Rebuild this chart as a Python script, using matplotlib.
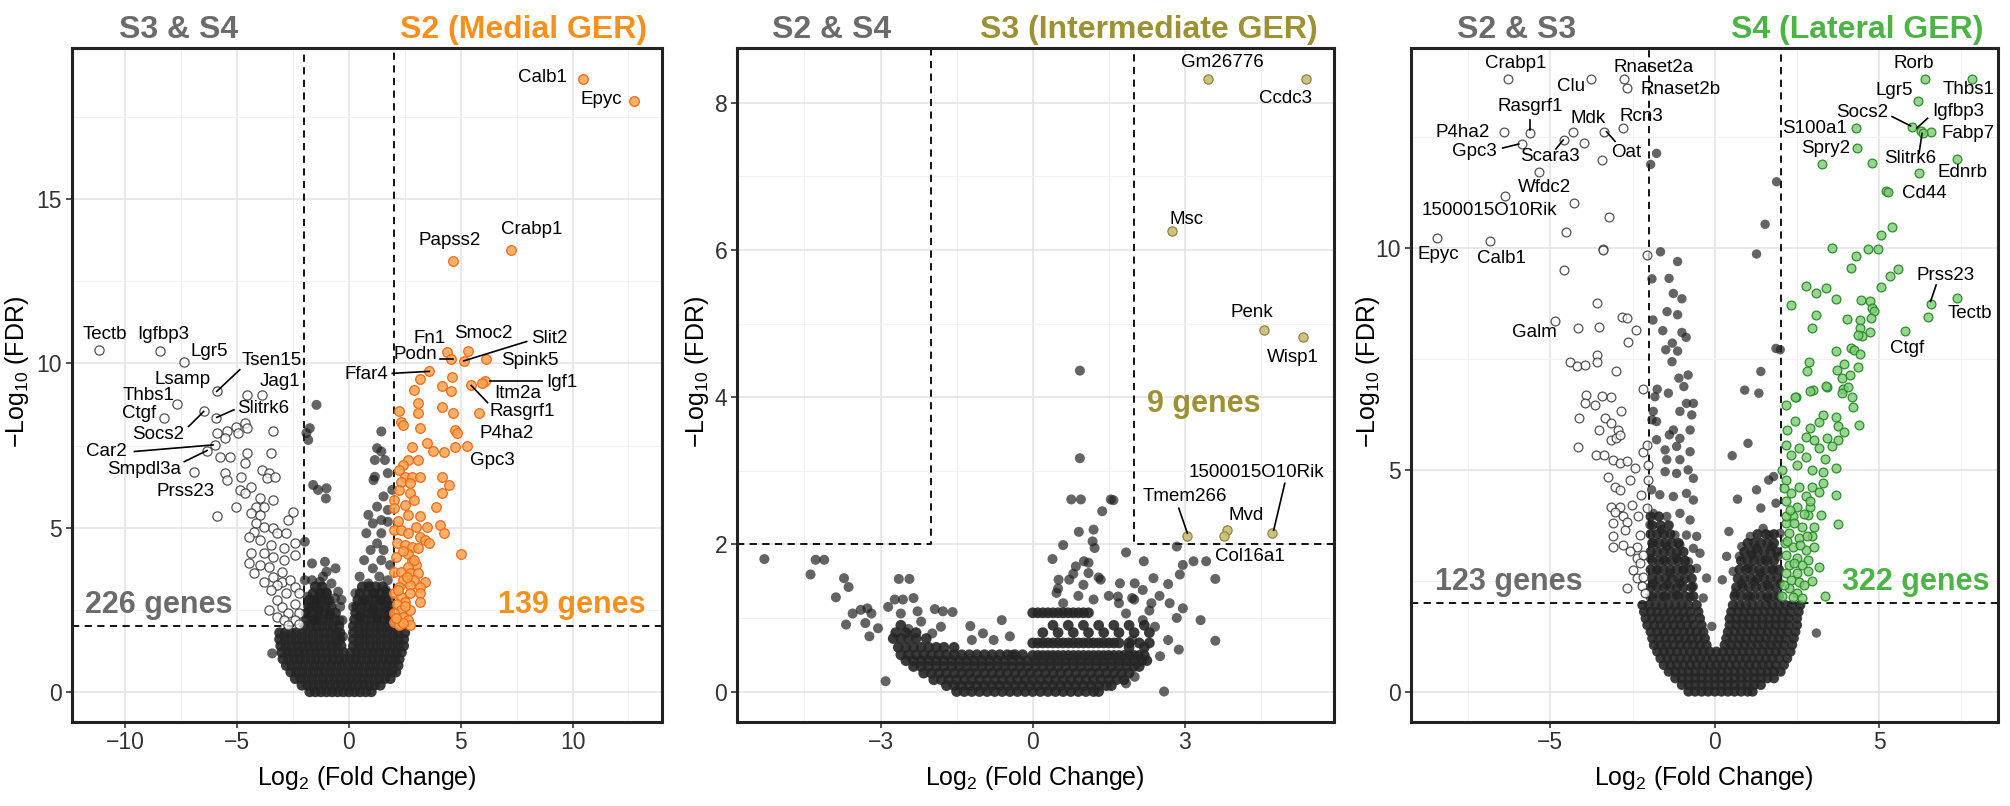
import matplotlib
matplotlib.use("Agg")
import matplotlib.pyplot as plt
from matplotlib.ticker import MultipleLocator

plt.rcParams['font.family'] = ['Liberation Sans', 'DejaVu Sans']
plt.rcParams['mathtext.fontset'] = 'custom'
plt.rcParams['mathtext.rm'] = 'Liberation Sans'
plt.rcParams['mathtext.it'] = 'Liberation Sans:italic'

# ---------------- Panel 1: S2 (Medial GER) vs S3 & S4 ----------------
p1_up = [(10.47, 18.68), (12.73, 18.0), (7.27, 13.47), (4.65, 13.11),
         (4.40, 10.34), (5.33, 10.37), (4.56, 10.14), (5.14, 10.08), (6.14, 10.14), (3.59, 9.76),
         (6.10, 9.48), (5.47, 9.33), (5.95, 9.42), (3.20, 9.52), (4.59, 9.60), (2.90, 9.20),
         (4.17, 9.30), (4.56, 9.15), (5.81, 8.49), (3.10, 8.79), (4.17, 8.69), (4.65, 8.49),
         (2.23, 8.54), (3.10, 8.49), (2.33, 8.23), (2.42, 8.13), (3.20, 8.03), (4.75, 7.98),
         (4.84, 7.88), (3.49, 7.57), (2.81, 7.47), (3.78, 7.32), (4.26, 7.29), (4.75, 7.47),
         (5.29, 7.50), (2.62, 7.06), (3.10, 7.06), (2.42, 6.91), (2.23, 6.76), (2.52, 6.55),
         (2.81, 6.55), (3.20, 6.55), (4.17, 6.55), (4.46, 6.30), (2.33, 6.40), (2.71, 6.35),
         (2.23, 6.15), (2.71, 6.05), (4.17, 6.05), (2.03, 5.84), (2.91, 5.84), (3.88, 5.64),
         (2.03, 5.59), (2.62, 5.39), (3.20, 5.34), (3.00, 5.03), (3.49, 5.03), (4.07, 5.08),
         (2.03, 4.93), (2.33, 4.93), (2.62, 4.83), (4.26, 4.83), (3.20, 4.73), (3.39, 4.62),
         (3.59, 4.52), (2.13, 4.52), (2.52, 4.47), (2.81, 4.42), (3.10, 4.37), (5.00, 4.20),
         (2.62, 4.20), (2.81, 3.99), (3.00, 3.86), (2.62, 3.81), (2.03, 3.66), (2.33, 3.66),
         (2.71, 3.61), (3.10, 3.61), (2.42, 3.40), (2.91, 3.40), (3.39, 3.35), (2.23, 3.20),
         (2.71, 3.25), (3.20, 3.20), (2.03, 3.00), (2.33, 2.90), (2.71, 3.00), (3.20, 3.00),
         (2.52, 2.74), (3.20, 2.74), (2.13, 2.69), (2.33, 2.49), (2.71, 2.49), (2.03, 2.39),
         (2.42, 2.29), (2.62, 2.18), (2.03, 2.13), (2.23, 2.03), (2.71, 2.03), (2.42, 2.10),
         (2.10, 2.25), (2.50, 2.60), (2.20, 3.10), (2.60, 3.50), (2.10, 4.10), (2.40, 4.30),
         (2.90, 4.00), (2.20, 5.20), (2.50, 5.70)]
p1_down = [(-11.18, 10.42), (-8.43, 10.37), (-7.36, 10.06), (-5.91, 9.15), (-4.55, 9.04),
           (-3.88, 9.04), (-7.69, 8.77), (-8.29, 8.33), (-6.49, 8.54), (-5.95, 8.33), (-6.01, 7.52),
           (-6.34, 7.32), (-6.92, 6.71), (-5.91, 7.88), (-5.43, 7.93), (-5.04, 8.08), (-4.65, 8.18),
           (-4.55, 8.03), (-4.94, 7.88), (-3.39, 7.93), (-5.52, 7.72), (-5.78, 7.16), (-5.33, 7.16),
           (-4.55, 7.27), (-3.49, 7.27), (-4.65, 6.96), (-5.52, 6.66), (-5.43, 6.45), (-4.84, 6.55),
           (-3.88, 6.76), (-3.59, 6.66), (-3.68, 6.50), (-3.29, 6.55), (-4.88, 6.15), (-4.36, 6.25),
           (-4.65, 6.05), (-3.97, 5.89), (-3.39, 5.84), (-4.17, 5.64), (-5.04, 5.64), (-3.78, 5.64),
           (-5.91, 5.34), (-4.36, 5.44), (-3.97, 5.39), (-2.52, 5.49), (-2.71, 5.23), (-4.17, 5.13),
           (-3.78, 5.03), (-3.39, 4.98), (-4.26, 4.88), (-3.20, 4.83), (-2.81, 4.83), (-4.46, 4.73),
           (-3.97, 4.62), (-3.49, 4.47), (-2.42, 4.52), (-2.91, 4.37), (-4.36, 4.22), (-3.78, 4.22),
           (-3.39, 4.12), (-2.42, 4.17), (-4.46, 3.91), (-3.97, 3.86), (-3.59, 3.81), (-2.91, 4.01),
           (-3.00, 3.66), (-4.26, 3.61), (-3.39, 3.51), (-3.78, 3.35), (-3.00, 3.35), (-2.62, 3.40),
           (-3.20, 3.25), (-2.42, 3.20), (-3.49, 3.10), (-2.81, 3.00), (-2.23, 3.00), (-3.20, 2.79),
           (-3.59, 2.49), (-3.00, 2.59), (-2.42, 2.69), (-2.71, 2.39), (-2.23, 2.39), (-3.20, 2.29),
           (-2.91, 2.18), (-2.42, 2.18), (-2.71, 2.03), (-2.23, 2.08)]
p1_black = [(-1.45, 8.74), (-1.75, 8.03), (-1.82, 7.67), (-1.90, 7.88), (-1.60, 6.30), (-1.00, 6.20),
            (-1.03, 5.89), (-1.38, 6.15), (-1.97, 4.57), (-1.07, 3.96), (-0.60, 3.76), (-1.00, 3.66),
            (-1.30, 3.35), (-1.00, 3.05), (-0.63, 2.85), (-0.33, 2.80), (-1.45, 2.80), (-1.97, 3.40),
            (-1.75, 2.59), (-0.41, 2.18), (-0.26, 1.68), (-1.65, 3.91), (-1.16, 3.51), (-1.65, 3.40),
            (-0.78, 3.30), (-1.26, 3.00), (-0.48, 3.05), (-1.84, 2.90), (-0.87, 2.79), (-1.36, 2.49),
            (-0.39, 2.59), (-1.94, 2.39), (-0.87, 2.34), (-1.55, 2.18), (-0.29, 2.18), (-3.43, 1.17),
            (1.45, 7.93), (1.26, 7.42), (1.45, 7.32), (1.16, 7.06), (1.61, 7.06), (1.16, 6.55),
            (1.10, 6.45), (1.74, 6.66), (1.55, 5.95), (1.94, 6.15), (1.26, 5.64), (1.74, 5.54),
            (0.87, 5.39), (1.07, 5.13), (1.45, 5.23), (1.74, 5.18), (0.78, 4.83), (1.45, 4.83),
            (1.26, 4.52), (0.97, 4.32), (1.55, 4.32), (0.68, 4.01), (1.45, 4.01), (1.84, 3.86),
            (1.07, 3.76), (0.48, 3.51), (1.36, 3.51), (1.74, 3.40), (0.87, 3.30), (0.29, 3.00),
            (1.16, 3.00), (1.65, 3.10), (0.68, 2.79), (1.45, 2.79), (1.84, 2.79), (0.19, 2.59),
            (1.07, 2.49), (1.74, 2.49), (0.48, 2.29), (1.26, 2.24), (1.84, 2.18)]
p1_core = [
    (0.0, [-1.75, -1.5, -1.25, -1.0, -0.75, -0.5, -0.25, 0.0, 0.25, 0.5, 0.75, 1.0]),
    (0.2, [-2.1, -1.85, -1.6, -1.35, -1.1, -0.85, -0.6, -0.35, -0.1, 0.15, 0.4, 0.65, 0.9, 1.15, 1.4]),
    (0.4, [-2.4, -2.15, -1.9, -1.65, -1.4, -1.15, -0.9, -0.65, -0.4, -0.15, 0.1, 0.35, 0.6, 0.85,
           1.1, 1.35, 1.6, 1.85]),
    (0.6, [-2.6, -2.35, -2.1, -1.85, -1.6, -1.35, -1.1, -0.85, -0.6, -0.35, -0.1, 0.15, 0.4, 0.65,
           0.9, 1.15, 1.4, 1.65, 1.9, 2.1]),
    (0.8, [-2.8, -2.55, -2.3, -2.05, -1.8, -1.55, -1.3, -1.05, -0.8, -0.55, -0.3, -0.05, 0.2, 0.45,
           0.7, 0.95, 1.2, 1.45, 1.7, 1.95, 2.2]),
    (1.0, [-2.95, -2.7, -2.45, -2.2, -1.95, -1.7, -1.45, -1.2, -0.95, -0.7, -0.45, -0.2, 0.05, 0.3,
           0.55, 0.8, 1.05, 1.3, 1.55, 1.8, 2.05, 2.25]),
    (1.2, [-3.0, -2.75, -2.5, -2.25, -2.0, -1.75, -1.5, -1.25, -1.0, -0.75, -0.5, -0.25, 0.1, 0.35,
           0.6, 0.85, 1.1, 1.35, 1.6, 1.85, 2.1, 2.35]),
    (1.4, [-3.05, -2.8, -2.55, -2.3, -2.05, -1.8, -1.55, -1.3, -1.05, -0.8, -0.55, -0.35, 0.2, 0.45,
           0.7, 0.95, 1.2, 1.45, 1.7, 1.95, 2.2, 2.45]),
    (1.6, [-3.1, -2.85, -2.6, -2.35, -2.1, -1.85, -1.6, -1.35, -1.1, -0.85, -0.6, -0.4, 0.2, 0.45,
           0.7, 0.95, 1.2, 1.45, 1.7, 1.95, 2.2, 2.45]),
    (1.8, [-3.1, -2.85, -2.6, -2.35, -2.1, -1.85, -1.6, -1.35, -1.1, -0.85, -0.6, -0.4, 0.2, 0.45,
           0.7, 0.95, 1.2, 1.45, 1.7, 1.95, 2.2, 2.5]),
    (2.0, [-1.95, -1.7, -1.45, -1.2, -0.95, -0.7, -0.45, 0.2, 0.45, 0.7, 0.95, 1.2, 1.45, 1.7, 1.95]),
    (2.2, [-1.9, -1.65, -1.4, -1.15, -0.9, -0.65, 0.25, 0.5, 0.75, 1.0, 1.25, 1.5, 1.75, 1.95]),
    (2.4, [-1.85, -1.6, -1.35, -1.1, -0.85, -0.6, 0.3, 0.55, 0.8, 1.05, 1.3, 1.55, 1.8]),
    (2.6, [-1.8, -1.55, -1.3, -1.05, -0.8, 0.35, 0.6, 0.85, 1.1, 1.35, 1.6, 1.85]),
    (2.8, [-1.75, -1.5, -1.25, -1.0, 0.4, 0.65, 0.9, 1.15, 1.4, 1.65]),
    (3.0, [-1.6, -1.3, -1.0, 0.5, 0.8, 1.1, 1.4, 1.7]),
    (3.2, [-1.5, -1.2, 0.6, 0.9, 1.2, 1.5]),
]
p1_labels = [("Calb1", 8.66, 18.70), ("Epyc", 11.28, 18.04), ("Crabp1", 8.18, 14.07),
             ("Papss2", 4.50, 13.75), ("Tectb", -10.90, 10.89), ("Igfbp3", -8.29, 10.89),
             ("Lgr5", -6.24, 10.37), ("Tsen15", -3.45, 10.09), ("Lsamp", -7.46, 9.50),
             ("Jag1", -3.06, 9.45), ("Thbs1", -8.97, 9.04), ("Ctgf", -9.38, 8.49),
             ("Slitrk6", -3.82, 8.64), ("Socs2", -8.55, 7.83), ("Car2", -10.85, 7.32),
             ("Smpdl3a", -9.17, 6.76), ("Prss23", -7.29, 6.10), ("Fn1", 3.59, 10.77),
             ("Smoc2", 6.01, 10.92), ("Slit2", 8.95, 10.77), ("Podn", 2.95, 10.26),
             ("Spink5", 8.08, 10.08), ("Ffar4", 0.78, 9.65), ("Igf1", 9.53, 9.42),
             ("Itm2a", 7.56, 9.10), ("Rasgrf1", 7.77, 8.54), ("P4ha2", 7.07, 7.88),
             ("Gpc3", 6.41, 7.06)]
p1_lines = [((-4.88, 9.81), (-5.91, 9.15)), ((-5.14, 8.59), (-5.91, 8.36)),
            ((-7.17, 8.08), (-6.49, 8.54)), ((-9.59, 7.32), (-6.07, 7.52)),
            ((-7.36, 7.01), (-6.34, 7.35)), ((7.95, 10.67), (5.14, 10.08)),
            ((4.07, 10.14), (4.65, 10.14)), ((1.94, 9.70), (3.59, 9.76)),
            ((6.30, 9.48), (8.62, 9.48)), ((5.47, 9.33), (6.20, 8.81))]

# ---------------- Panel 2: S3 (Intermediate GER) vs S2 & S4 ----------------
p2_up = [(3.46, 8.32), (5.38, 8.32), (2.74, 6.26), (4.56, 4.91), (5.33, 4.82),
         (3.05, 2.11), (3.83, 2.20), (3.77, 2.11), (4.72, 2.16)]
p2_black = [(-5.29, 1.80), (-4.38, 1.59), (-4.28, 1.79), (-4.11, 1.79), (-3.88, 1.28), (-3.72, 1.54),
            (-3.63, 1.42), (-3.68, 0.91), (-3.55, 1.06), (-3.39, 1.11), (-3.26, 1.13), (-3.18, 1.06),
            (-3.30, 0.93), (-3.22, 0.75), (-3.05, 0.86), (-2.90, 0.14), (-2.85, 1.15), (-2.64, 1.53),
            (-2.43, 1.53), (-2.72, 1.25), (-2.56, 1.25), (-2.35, 1.27), (-2.60, 1.06), (-2.27, 1.09),
            (-1.93, 1.12), (-1.77, 1.09), (-1.58, 1.08), (-1.23, 0.89), (-0.61, 0.97), (-1.81, 0.88),
            (-1.98, 0.79), (-0.98, 0.79), (-0.77, 0.70), (-0.40, 0.50), (0.93, 4.36), (0.93, 3.17),
            (0.76, 2.61), (0.95, 2.61), (1.54, 2.61), (1.59, 2.60), (1.37, 2.45), (0.91, 2.17),
            (1.20, 2.20), (1.18, 2.04), (1.22, 1.95), (0.60, 1.99), (0.39, 1.80), (1.84, 1.89),
            (2.19, 1.77), (2.84, 1.97), (2.96, 1.72), (3.17, 1.77), (3.42, 1.77), (3.60, 1.53),
            (2.90, 1.59), (2.67, 1.46), (2.38, 1.54), (3.31, 0.97), (3.60, 0.69), (2.96, 1.13),
            (2.84, 1.00), (2.88, 0.57), (2.59, 0.00), (2.67, 0.70), (2.51, 0.48), (0.85, 1.70),
            (1.01, 1.77), (0.72, 1.52), (1.10, 1.61), (1.34, 1.52), (1.72, 1.47), (2.01, 1.47),
            (2.17, 1.38), (1.68, 1.29), (1.96, 1.27), (2.34, 1.20), (0.51, 1.52), (0.47, 1.34),
            (1.84, 1.06), (2.17, 0.97), (2.41, 0.88), (1.96, 0.70), (2.01, 0.20), (1.84, 0.11),
            (0.60, 1.20), (0.90, 1.30), (1.20, 1.25), (1.50, 1.30), (0.50, 1.40), (1.00, 1.45),
            (1.30, 1.55), (1.70, 1.20), (2.00, 1.25), (2.30, 1.10), (2.50, 1.30), (2.70, 1.20),
            (0.80, 1.60), (1.10, 1.75), (-2.20, 0.95), (-2.45, 0.85), (-1.20, 0.70), (-0.45, 0.75)]
p2_core = [
    (0.0, [-1.5, -1.35, -1.2, -1.05, -0.9, -0.75, -0.6, -0.45, -0.3, -0.15, 0.0, 0.15, 0.3, 0.45,
           0.6, 0.75, 0.9, 1.05, 1.2, 1.3]),
    (0.08, [-1.7, -1.55, -1.4, -1.25, -1.1, -0.95, -0.8, -0.65, -0.5, -0.35, -0.2, -0.05, 0.1, 0.25,
            0.4, 0.55, 0.7, 0.85, 1.0, 1.15, 1.3, 1.45, 1.55]),
    (0.16, [-1.95, -1.8, -1.65, -1.5, -1.35, -1.2, -1.05, -0.9, -0.75, -0.6, -0.45, -0.3, -0.15, 0.0,
            0.15, 0.3, 0.45, 0.6, 0.75, 0.9, 1.05, 1.2, 1.35, 1.5, 1.65, 1.8]),
    (0.25, [-2.15, -2.0, -1.85, -1.7, -1.55, -1.4, -1.25, -1.1, -0.95, -0.8, -0.65, -0.5, -0.35, -0.2,
            -0.05, 0.1, 0.25, 0.4, 0.55, 0.7, 0.85, 1.0, 1.15, 1.3, 1.45, 1.6, 1.75, 1.9]),
    (0.34, [-2.35, -2.2, -2.05, -1.9, -1.75, -1.6, -1.45, -1.3, -1.15, -1.0, -0.85, -0.7, -0.55, -0.4,
            -0.25, -0.1, 0.05, 0.2, 0.35, 0.5, 0.65, 0.8, 0.95, 1.1, 1.25, 1.4, 1.55, 1.7, 1.85, 2.0,
            2.1]),
    (0.42, [-2.5, -2.35, -2.2, -2.05, -1.9, -1.75, -1.6, -1.45, -1.3, -1.15, -1.0, -0.85, -0.7, -0.55,
            -0.4, -0.25, -0.1, 0.05, 0.2, 0.35, 0.5, 0.65, 0.8, 0.95, 1.1, 1.25, 1.4, 1.55, 1.7, 1.85,
            2.0, 2.15, 2.25]),
    (0.5, [-2.6, -2.45, -2.3, -2.15, -2.0, -1.85, -1.7, -1.55, -1.4, -1.25, -1.1, -0.95, -0.8, -0.65,
           -0.5, -0.35, -0.2]),
    (0.49, [0.0, 0.1, 0.2, 0.3, 0.4, 0.5, 0.6, 0.7, 0.8, 0.9, 1.0, 1.1, 1.2, 1.3, 1.4, 1.5, 1.6, 1.7,
            1.8, 1.9, 2.0, 2.1, 2.2]),
    (0.6, [-2.65, -2.5, -2.35, -2.2, -2.05, -1.9, -1.75, -1.55, 1.9, 2.2]),
    (0.66, [0.0, 0.1, 0.2, 0.3, 0.4, 0.5, 0.6, 0.7, 0.8, 0.9, 1.0, 1.1, 1.2, 1.3, 1.4, 1.5, 1.6, 1.7,
            1.9, 2.1, 2.3]),
    (0.72, [-2.75, -2.6, -2.45, -2.3, -2.1]),
    (0.8, [-2.7, -2.5, -2.3, 0.2, 0.5, 0.8, 1.1, 1.4, 1.7, 2.0, 2.3]),
    (0.9, [-2.6, 0.4, 0.7, 1.0, 1.3, 1.6, 1.9, 2.2]),
    (1.07, [0.0, 0.1, 0.2, 0.3, 0.4, 0.5, 0.6, 0.7, 0.8, 0.9, 1.0, 1.1]),
]
p2_labels = [("Gm26776", 3.73, 8.55), ("Ccdc3", 4.98, 8.06), ("Msc", 3.04, 6.42),
             ("Penk", 4.33, 5.15), ("Wisp1", 5.12, 4.54), ("Tmem266", 3.00, 2.65),
             ("Mvd", 4.21, 2.39), ("1500015O10Rik", 4.41, 2.97), ("Col16a1", 4.29, 1.83)]
p2_lines = [((2.88, 2.49), (3.05, 2.15)), ((4.97, 2.83), (4.75, 2.19))]

# ---------------- Panel 3: S4 (Lateral GER) vs S2 & S3 ----------------
p3_up = [(6.40, 13.81), (7.83, 13.81), (6.17, 13.33), (6.56, 12.62), (4.29, 12.72), (4.32, 12.26),
         (6.01, 12.73), (6.27, 12.65), (6.34, 12.59), (3.26, 11.89), (4.78, 11.92), (7.35, 12.01),
         (6.21, 11.69), (5.21, 11.30), (5.27, 11.27), (5.40, 10.49), (5.04, 10.30), (3.55, 10.00),
         (4.65, 9.98), (4.95, 9.98), (4.29, 9.83), (4.13, 9.55), (5.56, 9.53), (5.34, 9.38),
         (2.77, 9.15), (3.09, 8.98), (3.38, 9.10), (3.68, 8.86), (5.06, 9.12), (2.31, 8.72),
         (4.43, 8.83), (4.71, 8.80), (4.78, 8.65), (4.84, 8.59), (3.09, 8.50), (4.03, 8.40),
         (4.42, 8.38), (4.75, 8.42), (2.96, 8.21), (4.42, 8.20), (4.71, 8.12), (4.48, 8.02),
         (4.35, 8.05), (6.56, 8.74), (7.35, 8.87), (6.47, 8.46), (5.78, 8.14), (3.70, 7.69),
         (4.13, 7.74), (4.22, 7.71), (4.42, 7.62), (2.87, 7.44), (2.79, 7.22), (3.71, 7.26),
         (3.94, 7.39), (4.36, 7.31), (3.87, 7.07), (4.10, 7.14), (2.47, 6.65), (2.99, 6.80),
         (3.42, 6.88), (3.91, 6.82), (4.17, 6.65), (2.18, 6.47), (2.44, 6.65), (2.90, 6.77),
         (3.39, 6.89), (3.87, 6.73), (4.06, 6.86), (4.19, 6.43), (3.29, 6.24), (3.68, 6.20),
         (3.74, 5.98), (4.39, 6.02), (3.16, 6.07), (2.90, 5.94), (3.94, 5.86), (2.77, 5.75),
         (3.03, 5.68), (3.42, 5.71), (3.74, 5.68), (2.18, 5.56), (2.57, 5.49), (3.16, 5.49),
         (3.55, 5.53), (2.31, 5.34), (2.77, 5.30), (3.35, 5.24), (3.68, 5.04), (2.96, 5.00),
         (3.29, 4.96), (2.18, 4.77), (2.57, 4.62), (2.96, 4.62), (3.29, 4.70), (3.68, 4.44),
         (2.31, 4.47), (2.77, 4.40), (3.16, 4.51), (2.18, 4.29), (2.51, 4.17), (2.90, 4.17),
         (3.22, 3.98), (2.83, 3.98), (2.38, 3.95), (2.18, 3.80), (2.64, 3.72), (3.03, 3.72),
         (3.74, 3.78), (2.25, 3.57), (2.57, 3.46), (2.96, 3.50), (2.12, 3.35), (2.38, 3.27),
         (2.77, 3.20), (3.03, 3.27), (2.18, 3.08), (2.51, 3.01), (2.83, 2.97), (2.25, 2.86),
         (2.64, 2.86), (3.16, 2.82), (2.18, 2.67), (2.51, 2.67), (2.83, 2.71), (2.31, 2.52),
         (2.57, 2.48), (2.25, 2.33), (2.51, 2.22), (2.38, 2.14), (2.64, 2.11), (3.35, 2.16),
         (2.18, 3.95), (2.10, 2.40), (2.40, 2.90), (2.20, 3.40), (2.60, 3.30), (2.40, 3.80),
         (2.80, 3.50), (2.10, 4.60), (2.70, 4.00), (2.30, 4.10), (2.90, 4.30), (2.50, 5.10),
         (2.20, 5.90), (2.05, 2.15), (2.70, 2.40), (2.95, 2.50), (2.05, 5.00), (2.45, 6.10)]
p3_down = [(-6.30, 13.81), (-3.75, 13.81), (-2.75, 13.81), (-2.66, 13.61), (-5.61, 12.61),
           (-6.42, 12.62), (-4.30, 12.63), (-3.36, 12.63), (-2.78, 12.71), (-3.99, 12.38),
           (-3.44, 11.99), (-4.58, 12.44), (-5.87, 12.35), (-5.35, 11.71), (-6.39, 11.18),
           (-4.27, 11.03), (-3.23, 10.70), (-4.51, 10.36), (-8.43, 10.23), (-6.84, 10.17),
           (-3.41, 9.98), (-2.05, 9.85), (-3.39, 9.96), (-4.58, 9.50), (-3.59, 8.76), (-4.86, 8.35),
           (-4.15, 8.20), (-3.51, 8.23), (-2.83, 8.44), (-2.68, 8.42), (-2.40, 8.16), (-2.63, 7.89),
           (-3.59, 7.59), (-4.40, 7.44), (-4.18, 7.35), (-3.95, 7.37), (-3.59, 7.44), (-3.01, 7.23),
           (-2.19, 6.83), (-3.91, 6.68), (-3.42, 6.67), (-3.15, 6.65), (-3.94, 6.50), (-3.64, 6.47),
           (-2.85, 6.33), (-4.12, 6.18), (-3.34, 6.17), (-3.16, 6.05), (-3.51, 5.90), (-2.93, 5.90),
           (-3.17, 5.68), (-2.99, 5.71), (-2.87, 5.79), (-4.15, 5.51), (-3.61, 5.34), (-3.37, 5.34),
           (-3.08, 5.23), (-2.87, 5.15), (-2.67, 5.19), (-2.42, 5.04), (-2.17, 5.41), (-2.07, 5.56),
           (-2.02, 5.11), (-3.24, 4.85), (-2.58, 4.77), (-3.03, 4.62), (-2.89, 4.55), (-2.04, 4.77),
           (-2.23, 4.44), (-3.14, 4.17), (-2.89, 4.17), (-2.53, 4.21), (-3.04, 4.06), (-2.78, 3.95),
           (-2.32, 3.95), (-3.09, 3.80), (-2.68, 3.83), (-2.07, 4.14), (-2.73, 3.65), (-3.09, 3.50),
           (-2.27, 3.53), (-2.78, 3.31), (-3.09, 3.27), (-2.37, 3.27), (-2.58, 3.16), (-2.37, 3.01),
           (-2.17, 3.08), (-2.27, 2.89), (-2.48, 2.74), (-2.68, 2.33), (-2.37, 2.56), (-2.17, 2.59),
           (-2.22, 2.37), (-2.12, 2.22)]
p3_black = [(-1.77, 12.14), (-1.95, 11.89), (1.88, 11.50), (1.53, 10.54), (1.27, 9.87),
            (-1.65, 9.92), (-1.13, 9.70), (-1.91, 9.31), (-1.39, 9.32), (-1.26, 8.98), (-1.00, 8.86),
            (-1.45, 8.57), (-1.13, 8.50), (-1.88, 8.38), (-1.58, 8.14), (-1.00, 8.10), (-0.87, 7.99),
            (-1.29, 7.86), (-1.49, 7.71), (-1.13, 7.68), (1.86, 7.74), (1.99, 7.71), (-1.30, 7.44),
            (1.40, 7.22), (-0.81, 7.14), (-1.09, 7.07), (-0.94, 6.88), (0.91, 6.80), (1.34, 6.73),
            (-1.75, 6.82), (-1.82, 6.65), (-1.41, 6.73), (-0.86, 6.50), (-0.65, 6.50), (-1.06, 6.32),
            (-0.70, 6.24), (-1.87, 6.32), (-1.91, 6.13), (-1.77, 6.09), (-1.26, 5.90), (-0.75, 5.90),
            (-1.06, 5.71), (-1.38, 5.79), (-1.77, 5.68), (-1.51, 5.45), (-1.16, 5.53), (-0.75, 5.41),
            (-1.46, 5.23), (-1.06, 5.23), (-0.81, 5.00), (-0.65, 4.81), (-1.16, 4.92), (-1.51, 4.96),
            (-1.92, 4.55), (-1.67, 4.44), (-1.26, 4.40), (-0.86, 4.47), (-0.65, 4.32), (-1.87, 4.02),
            (-1.46, 3.95), (-1.06, 4.02), (-0.75, 3.87), (-1.97, 3.76), (-1.62, 3.65), (-1.21, 3.53),
            (-0.86, 3.53), (-0.55, 3.50), (-1.87, 3.35), (-1.46, 3.27), (-1.06, 3.31), (-0.65, 3.23),
            (-1.97, 3.01), (-1.56, 2.97), (-1.16, 3.01), (-0.80, 2.93), (-0.45, 3.12), (-1.77, 2.74),
            (-1.36, 2.67), (-0.96, 2.74), (-0.55, 2.78), (-0.25, 2.56), (-1.87, 2.44), (-1.46, 2.41),
            (-1.06, 2.44), (-0.65, 2.37), (-1.97, 2.14), (-1.56, 2.14), (-1.16, 2.18), (-0.75, 2.14),
            (-0.35, 2.11), (1.01, 5.60), (0.53, 5.32), (1.64, 4.77), (1.79, 4.85), (1.27, 4.55),
            (0.69, 4.34), (1.86, 4.25), (1.40, 4.14), (0.43, 3.61), (1.47, 3.68), (1.66, 3.53),
            (1.99, 3.57), (1.08, 3.50), (0.82, 3.27), (1.27, 3.23), (1.73, 3.27), (0.36, 3.05),
            (0.75, 3.05), (1.14, 3.08), (1.53, 2.97), (1.92, 3.05), (0.56, 2.71), (1.01, 2.78),
            (1.40, 2.67), (1.79, 2.74), (0.23, 2.52), (0.82, 2.44), (1.21, 2.48), (1.60, 2.41),
            (1.99, 2.44), (-0.09, 1.47), (0.62, 2.22), (1.08, 2.14), (1.60, 2.11), (3.09, 1.32)]
p3_core = [
    (0.0, [-0.8, -0.6, -0.4, -0.2, 0.0, 0.2, 0.4, 0.6, 0.8, 1.0, 1.15]),
    (0.15, [-1.0, -0.8, -0.6, -0.4, -0.2, 0.0, 0.2, 0.4, 0.6, 0.8, 1.0, 1.2, 1.4]),
    (0.3, [-1.2, -1.0, -0.8, -0.6, -0.4, -0.2, 0.0, 0.2, 0.4, 0.6, 0.8, 1.0, 1.2, 1.4, 1.6, 1.8]),
    (0.45, [-1.4, -1.2, -1.0, -0.8, -0.6, -0.4, -0.2, 0.0, 0.2, 0.4, 0.6, 0.8, 1.0, 1.2, 1.4, 1.6,
            1.8, 2.0]),
    (0.6, [-1.55, -1.35, -1.15, -0.95, -0.75, -0.55, -0.35, -0.15, 0.05, 0.25, 0.45, 0.65, 0.85,
           1.05, 1.25, 1.45, 1.65, 1.85, 2.1]),
    (0.75, [-1.65, -1.45, -1.25, -1.05, -0.85, -0.65, -0.45, -0.25, -0.05, 0.15, 0.35, 0.55, 0.75,
            0.95, 1.15, 1.35, 1.55, 1.75, 1.95, 2.2]),
    (0.9, [-1.75, -1.55, -1.35, -1.15, -0.95, -0.75, -0.55, -0.35, -0.15, 0.05, 0.25, 0.45, 0.65,
           0.85, 1.05, 1.25, 1.45, 1.65, 1.85, 2.05, 2.3]),
    (1.05, [-1.85, -1.65, -1.45, -1.25, -1.05, -0.85, -0.65, -0.45, -0.25, 0.3, 0.5, 0.7, 0.9, 1.1,
            1.3, 1.5, 1.7, 1.9, 2.1, 2.35]),
    (1.2, [-1.9, -1.7, -1.5, -1.3, -1.1, -0.9, -0.7, -0.5, -0.3, 0.35, 0.55, 0.75, 0.95, 1.15, 1.35,
           1.55, 1.75, 1.95, 2.15, 2.4]),
    (1.35, [-1.95, -1.75, -1.55, -1.35, -1.15, -0.95, -0.75, -0.55, -0.35, 0.4, 0.6, 0.8, 1.0, 1.2,
            1.4, 1.6, 1.8, 2.0, 2.2, 2.45]),
    (1.5, [-2.05, -1.85, -1.65, -1.45, -1.25, -1.05, -0.85, -0.65, -0.4, 0.45, 0.65, 0.85, 1.05,
           1.25, 1.45, 1.65, 1.85, 2.05, 2.25, 2.5]),
    (1.65, [-2.1, -1.9, -1.7, -1.5, -1.3, -1.1, -0.9, -0.7, -0.45, 0.45, 0.65, 0.85, 1.05, 1.25,
            1.45, 1.65, 1.85, 2.05, 2.25, 2.5]),
    (1.8, [-2.15, -1.95, -1.75, -1.55, -1.35, -1.15, -0.95, -0.75, -0.5, 0.5, 0.7, 0.9, 1.1, 1.3,
           1.5, 1.7, 1.9, 2.1, 2.3, 2.55]),
    (1.95, [-2.2, -2.0, -1.8, -1.6, -1.4, -1.2, -1.0, -0.8, -0.55, 0.55, 0.75, 0.95, 1.15, 1.35,
            1.55, 1.75, 1.95, 2.15, 2.35, 2.6]),
    (2.15, [-1.9, -1.7, -1.5, -1.3, -1.1, -0.9, -0.65, 0.6, 0.8, 1.0, 1.2, 1.4, 1.6, 1.8, 1.95]),
    (2.35, [-1.95, -1.75, -1.55, -1.35, -1.15, -0.95, -0.7, 0.65, 0.85, 1.05, 1.25, 1.45, 1.65,
            1.85]),
    (2.55, [-1.9, -1.7, -1.5, -1.3, -1.1, -0.9, -0.7, 0.7, 0.9, 1.1, 1.3, 1.5, 1.7, 1.9]),
    (2.75, [-1.95, -1.75, -1.55, -1.35, -1.15, -0.95, -0.75, 0.75, 0.95, 1.15, 1.35, 1.55, 1.75,
            1.95]),
    (2.95, [-1.9, -1.7, -1.5, -1.3, -1.1, -0.9, 0.8, 1.0, 1.2, 1.4, 1.6, 1.8]),
    (3.15, [-1.95, -1.75, -1.55, -1.35, -1.15, -0.95, 0.9, 1.1, 1.3, 1.5, 1.7, 1.9]),
    (3.35, [-1.9, -1.7, -1.5, -1.3, -1.1, 1.0, 1.2, 1.4, 1.6, 1.8]),
    (3.55, [-1.95, -1.75, -1.55, -1.35, 1.3, 1.55, 1.8]),
    (3.75, [-1.9, -1.65, -1.4]),
    (3.95, [-1.95, -1.7]),
]
p3_labels = [("Crabp1", -6.04, 14.17), ("Clu", -4.38, 13.65), ("Rnaset2a", -1.87, 14.08),
             ("Rnaset2b", -1.05, 13.57), ("Rasgrf1", -5.62, 13.20), ("P4ha2", -7.66, 12.62),
             ("Mdk", -3.84, 12.92), ("Rcn3", -2.23, 12.97), ("Oat", -2.68, 12.16),
             ("Gpc3", -7.31, 12.18), ("Scara3", -5.01, 12.07), ("Wfdc2", -5.18, 11.37),
             ("1500015O10Rik", -6.84, 10.86), ("Epyc", -8.40, 9.85), ("Calb1", -6.48, 9.77),
             ("Galm", -5.49, 8.10), ("Rorb", 6.04, 14.17), ("Thbs1", 7.70, 13.57),
             ("Lgr5", 5.45, 13.56), ("Igfbp3", 7.40, 13.08), ("Socs2", 4.48, 13.07),
             ("Fabp7", 7.70, 12.59), ("S100a1", 3.03, 12.71), ("Spry2", 3.38, 12.26),
             ("Slitrk6", 5.94, 12.03), ("Ednrb", 7.53, 11.71), ("Cd44", 6.36, 11.24),
             ("Prss23", 7.01, 9.38), ("Tectb", 7.77, 8.53), ("Ctgf", 5.86, 7.74)]
p3_lines = [((-5.61, 12.89), (-5.61, 12.67)), ((-6.45, 12.26), (-5.96, 12.35)),
            ((-4.83, 12.24), (-4.61, 12.44)), ((-3.29, 12.63), (-3.03, 12.41)),
            ((5.39, 12.97), (5.95, 12.76)), ((6.47, 12.93), (6.14, 12.71)),
            ((6.21, 12.14), (6.30, 12.59)), ((6.73, 9.17), (6.56, 8.80))]

grey_txt = "#6B6B6B"
orange = "#F7901E"
olive = "#9C9135"
green = "#4DB346"


def unzip(pts):
    return [p[0] for p in pts], [p[1] for p in pts]


def unrows(rows):
    xs, ys = [], []
    for y, row in rows:
        for x in row:
            xs.append(x)
            ys.append(y)
    return xs, ys


def setup(ax, xlim, ylim, xmaj, xmin, ymaj, ymin):
    ax.set_xlim(*xlim)
    ax.set_ylim(*ylim)
    ax.xaxis.set_major_locator(MultipleLocator(xmaj))
    ax.xaxis.set_minor_locator(MultipleLocator(xmin))
    ax.yaxis.set_major_locator(MultipleLocator(ymaj))
    ax.yaxis.set_minor_locator(MultipleLocator(ymin))
    ax.grid(which="minor", color="#F1F1F1", lw=0.8, zorder=0)
    ax.grid(which="major", color="#E4E4E4", lw=1.2, zorder=0)
    ax.set_axisbelow(True)
    ax.tick_params(which="major", length=4, width=1.2, color="#333333",
                   labelsize=16.5, labelcolor="#333333", pad=3)
    ax.tick_params(which="minor", length=0)
    for sp in ax.spines.values():
        sp.set_linewidth(2.2)
        sp.set_color("#222222")
    # thresholds (FDR and fold change)
    ax.plot([xlim[0], -2, -2], [2, 2, ylim[1]], color="black", lw=1.3,
            ls=(0, (4, 3)), zorder=1)
    ax.plot([xlim[1], 2, 2], [2, 2, ylim[1]], color="black", lw=1.3,
            ls=(0, (4, 3)), zorder=1)
    ax.text(0.5, -0.084, "Log$_{2}$ (Fold Change)", transform=ax.transAxes,
            ha="center", va="center", fontsize=18)


def genes(ax, labels, lines):
    for (x0, y0), (x1, y1) in lines:
        ax.plot([x0, x1], [y0, y1], color="black", lw=1.2, zorder=4)
    for name, x, y in labels:
        ax.text(x, y, name, ha="center", va="center", fontsize=13.5, zorder=5)


def heads(ax, left, lx, right, rx, rcolor):
    ax.text(lx, 1.015, left, transform=ax.transAxes, ha="center",
            color=grey_txt, fontsize=23, fontweight="bold")
    ax.text(rx, 1.015, right, transform=ax.transAxes, ha="right",
            color=rcolor, fontsize=23, fontweight="bold")


fig = plt.figure(figsize=(20.1, 8.06), dpi=100)
bot = 1 - 721.7 / 806
hgt = 673.4 / 806
ax1 = fig.add_axes([71.6 / 2010, bot, 590.4 / 2010, hgt])
ax2 = fig.add_axes([737 / 2010, bot, 596.5 / 2010, hgt])
ax3 = fig.add_axes([1410.5 / 2010, bot, 587.5 / 2010, hgt])

black_kw = dict(s=52, color="#222222", alpha=0.7, edgecolors="none", zorder=2)
core_kw = dict(s=60, color="#262626", alpha=0.9, edgecolors="none", zorder=2)
open_kw = dict(s=44, facecolors=(1, 1, 1, 0.7), edgecolors=(0.2, 0.2, 0.2, 0.85),
               linewidths=0.9, zorder=3)
ylab = "\u2212Log$_{10}$ (FDR)"

# panel 1
setup(ax1, (-12.4, 14.0), (-0.91, 19.6), 5, 2.5, 5, 2.5)
ax1.scatter(*unrows(p1_core), **core_kw)
ax1.scatter(*unzip(p1_black), **black_kw)
ax1.scatter(*unzip(p1_down), **open_kw)
ax1.scatter(*unzip(p1_up), s=48, facecolors=(0.99, 0.64, 0.30, 0.85),
            edgecolors="#F06A1E", linewidths=0.9, zorder=3)
genes(ax1, p1_labels, p1_lines)
ax1.text(-11.82, 2.39, "226 genes", color=grey_txt, fontsize=22, fontweight="bold")
ax1.text(13.27, 2.39, "139 genes", color=orange, fontsize=22, fontweight="bold", ha="right")
heads(ax1, "S3 & S4", 0.182, "S2 (Medial GER)", 0.975, orange)
ax1.text(-0.0925, 0.52, ylab, transform=ax1.transAxes, rotation=90,
         ha="center", va="center", fontsize=18)

# panel 2
setup(ax2, (-5.83, 5.93), (-0.41, 8.74), 3, 1.5, 2, 1)
ax2.scatter(*unrows(p2_core), **core_kw)
ax2.scatter(*unzip(p2_black), **black_kw)
ax2.scatter(*unzip(p2_up), s=44, facecolors=(0.80, 0.75, 0.48, 0.95),
            edgecolors="#8E8440", linewidths=0.9, zorder=3)
genes(ax2, p2_labels, p2_lines)
ax2.text(2.26, 3.80, "9 genes", color=olive, fontsize=22, fontweight="bold")
heads(ax2, "S2 & S4", 0.159, "S3 (Intermediate GER)", 0.973, olive)
ax2.text(-0.067, 0.52, ylab, transform=ax2.transAxes, rotation=90,
         ha="center", va="center", fontsize=18)

# panel 3
setup(ax3, (-9.25, 8.61), (-0.68, 14.51), 5, 2.5, 5, 2.5)
ax3.scatter(*unrows(p3_core), **dict(core_kw, s=54))
ax3.scatter(*unzip(p3_black), **dict(black_kw, s=46))
ax3.scatter(*unzip(p3_down), **dict(open_kw, s=40))
ax3.scatter(*unzip(p3_up), s=40, facecolors=(0.49, 0.80, 0.45, 0.8),
            edgecolors="#2E8B2E", linewidths=0.9, zorder=3)
genes(ax3, p3_labels, p3_lines)
ax3.text(-8.51, 2.28, "123 genes", color=grey_txt, fontsize=22, fontweight="bold")
ax3.text(8.35, 2.28, "322 genes", color=green, fontsize=22, fontweight="bold", ha="right")
heads(ax3, "S2 & S3", 0.18, "S4 (Lateral GER)", 0.976, green)
ax3.text(-0.072, 0.52, ylab, transform=ax3.transAxes, rotation=90,
         ha="center", va="center", fontsize=18)

fig.savefig("out.png", dpi=100)
